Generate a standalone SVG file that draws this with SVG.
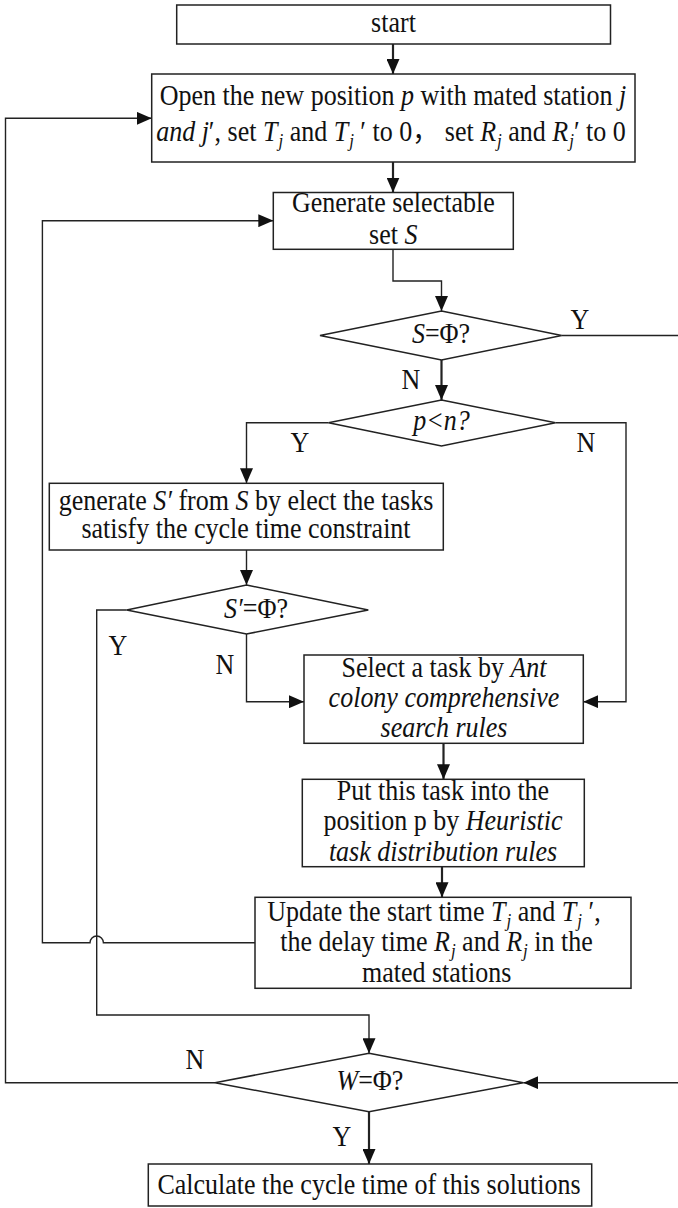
<svg xmlns="http://www.w3.org/2000/svg" width="678" height="1208" viewBox="0 0 678 1208" font-family="'Liberation Serif', 'Times New Roman', Times, serif">
<style>
  .box{fill:#fff;stroke:#222;stroke-width:1.5}
  .dia{fill:#fff;stroke:#222;stroke-width:1.5}
  .ln{fill:none;stroke:#222;stroke-width:1.4}
  .thk{stroke-width:2.2}
  text{font-family:'Liberation Serif','Times New Roman',Times,serif;font-size:26px;fill:#111;text-anchor:middle;transform-box:fill-box;transform-origin:50% 80.5%;transform:scaleY(1.1)}
  .i{font-style:italic}
  .sub{font-size:17px;font-style:italic}
  .cjk{font-family:'Liberation Serif','Noto Sans CJK SC',serif}
</style>
<defs>
  <marker id="ah" markerWidth="15" markerHeight="13" refX="15" refY="6.5" orient="auto" markerUnits="userSpaceOnUse">
    <path d="M0,0 L15,6.5 L0,13 z" fill="#111"/>
  </marker>
</defs>
<rect width="678" height="1208" fill="#fff"/>

<g id="connectors">
  <path class="ln thk" d="M393 44 V74" marker-end="url(#ah)"/>
  <path class="ln thk" d="M393 162 V192.5" marker-end="url(#ah)"/>
  <path class="ln" d="M393 249.3 V281 H441.5 V311" marker-end="url(#ah)"/>
  <path class="ln" d="M561.7 335.5 H678"/>
  <path class="ln thk" d="M441.5 360 V400" marker-end="url(#ah)"/>
  <path class="ln" d="M328.5 422.7 H246.5 V483.3" marker-end="url(#ah)"/>
  <path class="ln" d="M555.5 422.7 H626 V701.7 H583.3" marker-end="url(#ah)"/>
  <path class="ln" d="M246.5 550 V585" marker-end="url(#ah)"/>
  <path class="ln" d="M246.5 634 V701.7 H304" marker-end="url(#ah)"/>
  <path class="ln" d="M126.7 610 H96.7 V1015 H369 V1053.3" marker-end="url(#ah)"/>
  <path class="ln thk" d="M443.5 743.3 V779.3" marker-end="url(#ah)"/>
  <path class="ln thk" d="M442 866.7 V897.3" marker-end="url(#ah)"/>
  <path class="ln" d="M255 942.7 H103.4 A6.7 6.7 0 0 0 90 942.7 H42.4 V220.7 H273.3" marker-end="url(#ah)"/>
  <path class="ln" d="M215 1082.7 H5.5 V118.3 H151.7" marker-end="url(#ah)"/>
  <path class="ln" d="M678 1082.7 H523.3" marker-end="url(#ah)"/>
  <path class="ln thk" d="M369 1111.7 V1164" marker-end="url(#ah)"/>
</g>

<g id="labels">
  <text x="580" y="329">Y</text>
  <text x="411" y="389">N</text>
  <text x="300" y="452">Y</text>
  <text x="586" y="452">N</text>
  <text x="118" y="655">Y</text>
  <text x="225" y="674">N</text>
  <text x="195" y="1069">N</text>
  <text x="342" y="1146">Y</text>
</g>

<g id="start">
  <rect class="box" x="176.7" y="5" width="433.8" height="39"/>
  <text x="393.5" y="32">start</text>
</g>

<g id="open">
  <rect class="box" x="151.7" y="74" width="483.3" height="88"/>
  <text x="393" y="105">Open the new position <tspan class="i">p</tspan> with mated station <tspan class="i">j</tspan></text>
  <text x="391" y="141.7"><tspan class="i">and j</tspan>′, set <tspan class="i">T</tspan><tspan class="sub" dx="1" dy="5">j</tspan><tspan dy="-5"> and </tspan><tspan class="i">T</tspan><tspan class="sub" dx="1" dy="5">j</tspan><tspan dy="-5"> ′ to 0</tspan><tspan class="cjk">，</tspan><tspan>  set </tspan><tspan class="i">R</tspan><tspan class="sub" dx="1" dy="5">j</tspan><tspan dy="-5"> and </tspan><tspan class="i">R</tspan><tspan class="sub" dx="1" dy="5">j</tspan><tspan dy="-5">′ to 0</tspan></text>
</g>

<g id="generate">
  <rect class="box" x="273.3" y="192.5" width="240" height="56.8"/>
  <text x="393.3" y="212.3">Generate selectable</text>
  <text x="393.3" y="244">set <tspan class="i">S</tspan></text>
</g>

<g id="dec-s-empty">
  <polygon class="dia" points="441.5,311 561.7,335.5 441.5,360 320,335.5"/>
  <text x="441" y="343.5"><tspan class="i">S</tspan>=Φ?</text>
</g>

<g id="dec-p-n">
  <polygon class="dia" points="441.5,400 555.5,422.7 441.5,446 328.5,422.7"/>
  <text x="441.5" y="430" class="i">p&lt;n?</text>
</g>

<g id="gen-s-prime">
  <rect class="box" x="49.3" y="483.3" width="394" height="66.7"/>
  <text x="246" y="510">generate <tspan class="i">S′</tspan> from <tspan class="i">S</tspan> by elect the tasks</text>
  <text x="246" y="538.3">satisfy the cycle time constraint</text>
</g>

<g id="dec-s-prime-empty">
  <polygon class="dia" points="246.5,585 368.3,610 246.5,634 126.7,610"/>
  <text x="256" y="618.3"><tspan class="i">S′</tspan>=Φ?</text>
</g>

<g id="select">
  <rect class="box" x="304" y="655" width="279.3" height="88.3"/>
  <text x="444" y="676.7">Select a task by <tspan class="i">Ant</tspan></text>
  <text x="444" y="706.7" class="i">colony comprehensive</text>
  <text x="444" y="737.3" class="i">search rules</text>
</g>

<g id="put">
  <rect class="box" x="302.3" y="779.3" width="282" height="87.4"/>
  <text x="443" y="800">Put this task into the</text>
  <text x="443" y="830">position p by <tspan class="i">Heuristic</tspan></text>
  <text x="443" y="860.7" class="i">task distribution rules</text>
</g>

<g id="update">
  <rect class="box" x="255" y="897.3" width="376" height="91"/>
  <text x="434" y="921.7">Update the start time <tspan class="i">T</tspan><tspan class="sub" dx="1" dy="5">j</tspan><tspan dy="-5"> and </tspan><tspan class="i">T</tspan><tspan class="sub" dx="1" dy="5">j</tspan><tspan dy="-5"> ′,</tspan></text>
  <text x="436.5" y="951.7">the delay time <tspan class="i">R</tspan><tspan class="sub" dx="1" dy="5">j</tspan><tspan dy="-5"> and </tspan><tspan class="i">R</tspan><tspan class="sub" dx="1" dy="5">j</tspan><tspan dy="-5">  in the</tspan></text>
  <text x="436.7" y="981.7">mated stations</text>
</g>

<g id="dec-w-empty">
  <polygon class="dia" points="369,1053.3 523.3,1082.7 369,1111.7 215,1082.7"/>
  <text x="370" y="1090.5"><tspan class="i">W</tspan>=Φ?</text>
</g>

<g id="calculate">
  <rect class="box" x="148.3" y="1164" width="443.4" height="42"/>
  <text x="369" y="1194">Calculate the cycle time of this solutions</text>
</g>
</svg>
